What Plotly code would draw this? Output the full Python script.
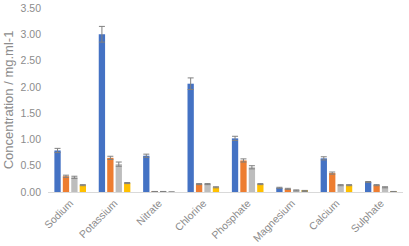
import plotly.graph_objects as go

categories = ["Sodium", "Potassium", "Nitrate", "Chlorine", "Phosphate", "Magnesium", "Calcium", "Sulphate"]
s1 = [0.79, 3.00, 0.69, 2.06, 1.02, 0.08, 0.64, 0.19]
s1_err = [0.04, 0.15, 0.03, 0.11, 0.04, 0.01, 0.03, 0.01]
s2 = [0.30, 0.65, 0.01, 0.15, 0.60, 0.06, 0.36, 0.13]
s2_err = [0.02, 0.03, 0.0, 0.01, 0.03, 0.01, 0.02, 0.01]
s3 = [0.28, 0.53, 0.01, 0.15, 0.47, 0.03, 0.13, 0.09]
s3_err = [0.02, 0.04, 0.0, 0.01, 0.03, 0.01, 0.01, 0.01]
s4 = [0.13, 0.17, 0.0, 0.09, 0.15, 0.02, 0.13, 0.01]
s4_err = [0.01, 0.01, 0.0, 0.01, 0.01, 0.01, 0.01, 0.0]

series = [(s1, s1_err, "#4472C4"), (s2, s2_err, "#ED7D31"), (s3, s3_err, "#BDBDBD"), (s4, s4_err, "#FFC000")]

fig = go.Figure()
for vals, errs, col in series:
    fig.add_trace(go.Bar(
        x=categories, y=vals, marker_color=col, marker_line_width=0,
        error_y=dict(type="data", array=errs, color="#808080", thickness=1, width=3),
    ))

fig.update_layout(
    width=409, height=246,
    margin=dict(l=48, r=6, t=8, b=54),
    paper_bgcolor="white", plot_bgcolor="white",
    barmode="group", bargap=0.24, bargroupgap=0.25,
    showlegend=False,
    font=dict(family="Liberation Sans", color="#8C8C8C", size=10),
)
fig.update_xaxes(
    showline=True, linecolor="#D9D9D9", linewidth=1, showgrid=False, automargin=False,
    tickangle=-45, tickfont=dict(size=10.5, color="#8C8C8C"), ticks="",
)
fig.update_yaxes(
    range=[0, 3.5], tickvals=[0, 0.5, 1, 1.5, 2, 2.5, 3, 3.5], tickformat=".2f",
    showgrid=False, zeroline=False, automargin=False, ticklabeloverflow="allow",
    ticklabelstandoff=6,
    showline=False, ticks="", tickfont=dict(size=10.5, color="#8C8C8C"),
    title=dict(text="Concentration / mg.ml-1", font=dict(size=13, color="#8C8C8C"), standoff=4),
)

fig.write_html("out.html")
